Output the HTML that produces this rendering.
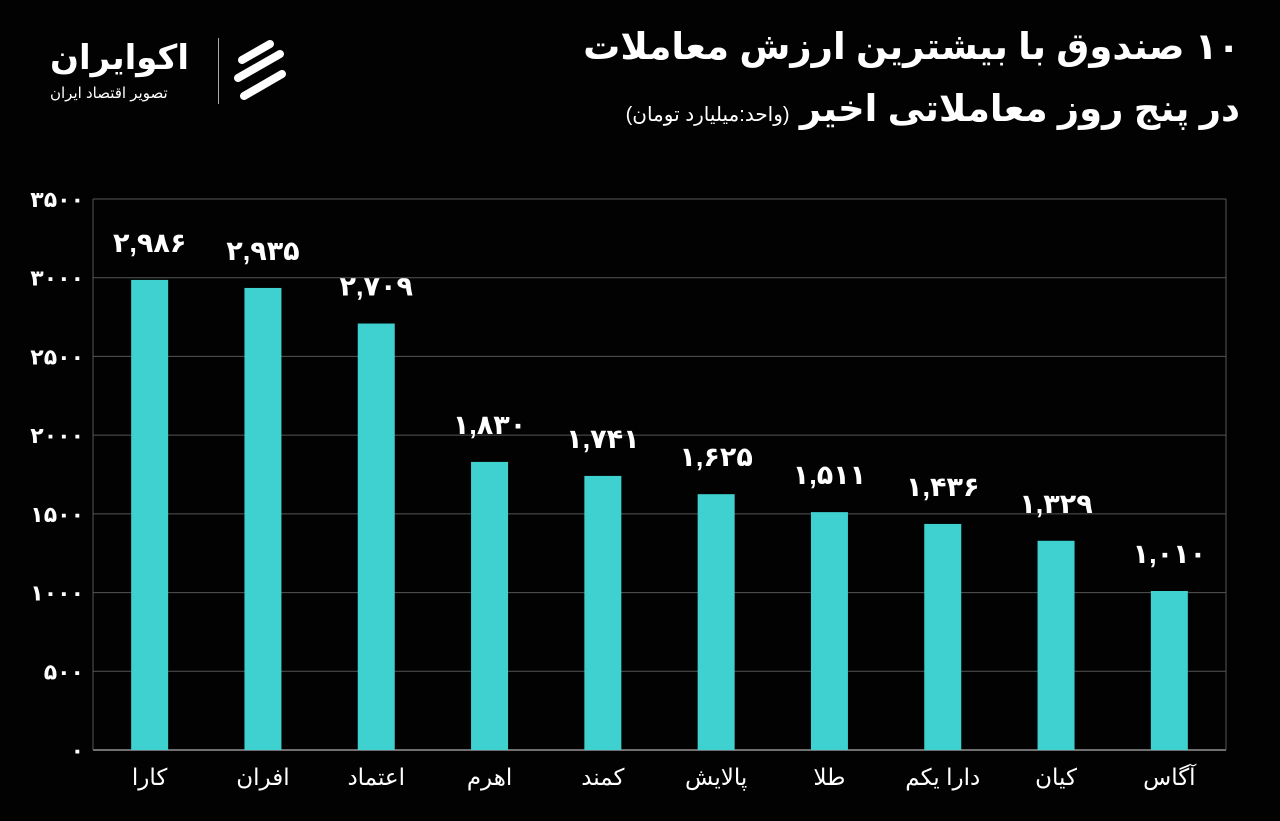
<!DOCTYPE html>
<html><head><meta charset="utf-8">
<style>
html,body{margin:0;padding:0;background:#020202;}
body{width:1280px;height:821px;overflow:hidden;position:relative;font-family:"Liberation Sans","Noto Sans CJK SC","DejaVu Sans",sans-serif;color:#fff;}
.t{position:absolute;direction:rtl;font-weight:bold;white-space:nowrap;}
</style></head><body>
<div class="t" style="right:40px;top:25px;font-size:37px;">۱۰ صندوق با بیشترین ارزش معاملات</div>
<div class="t" style="right:40px;top:87px;font-size:37px;">در پنج روز معاملاتی اخیر <span style="font-size:20px;font-weight:normal">(واحد:میلیارد تومان)</span></div>
<div style="position:absolute;left:50px;top:38px;width:260px;height:70px;">
 <div class="t" style="left:0;top:0;font-size:34px;direction:rtl;">اکوایران</div>
 <div class="t" style="left:0;top:46px;font-size:15px;font-weight:normal;">تصویر اقتصاد ایران</div>
 <div style="position:absolute;left:168px;top:0;width:1px;height:66px;background:#aaa"></div>
 <svg style="position:absolute;left:180px;top:0" width="60" height="68"><g stroke="#fff" stroke-width="8" fill="none" stroke-linecap="round"><path d="M12 22 L40 6"/><path d="M8 40 L50 16"/><path d="M14 58 L52 36"/></g></svg>
</div>
<svg id="chart" width="1280" height="821" style="position:absolute;left:0;top:0"></svg>
<script>
const categories=["کارا","افران","اعتماد","اهرم","کمند","پالایش","طلا","دارا یکم","کیان","آگاس"];
const values=[2986,2935,2709,1830,1741,1625,1511,1436,1329,1010];
const ticks=[0,500,1000,1500,2000,2500,3000,3500];
const NS="http://www.w3.org/2000/svg";
const svg=document.getElementById('chart');
const x0=93,x1=1226,y0=750,y1=199,maxV=3500;
const fa=s=>String(s).replace(/\d/g,d=>"۰۱۲۳۴۵۶۷۸۹"[d]);
const y=v=>y0-(v/maxV)*(y0-y1);
const band=(x1-x0)/categories.length;
const cx=i=>x0+band*(i+0.5);
function mk(t,a){const e=document.createElementNS(NS,t);for(const k in a)e.setAttribute(k,a[k]);svg.appendChild(e);return e;}
ticks.forEach(t=>{
 const l=mk('line',{x1:x0,x2:x1,y1:y(t),y2:y(t),stroke:t===0?'#ddd':'#555','stroke-width':1});
 
 
 const tx=mk('text',{x:84,y:y(t)+8,'text-anchor':'end',fill:'#fff','font-size':22,'font-weight':'bold'});
 tx.textContent=fa(t);
 
 
});
const bl=mk('line',{x1:x0,x2:x0,y1:y1,y2:y0,stroke:'#555'});


const br=mk('line',{x1:x1,x2:x1,y1:y1,y2:y0,stroke:'#555'});


categories.forEach((c,i)=>{
 const v=values[i];
 const r=mk('rect',{x:cx(i)-18.5,y:y(v),width:37,height:y0-y(v),fill:'#3fd0d0'});
 
 
 const lab=mk('text',{x:cx(i),y:y(v)-28,'text-anchor':'middle',fill:'#fff','font-size':27,'font-weight':'bold'});
 lab.textContent=fa(v.toLocaleString('en-US'));
 
 
 const cl=mk('text',{x:cx(i),y:785,'text-anchor':'middle',fill:'#fff','font-size':23,direction:'rtl'});
 cl.textContent=c;
 
 
});
</script>
</body></html>
